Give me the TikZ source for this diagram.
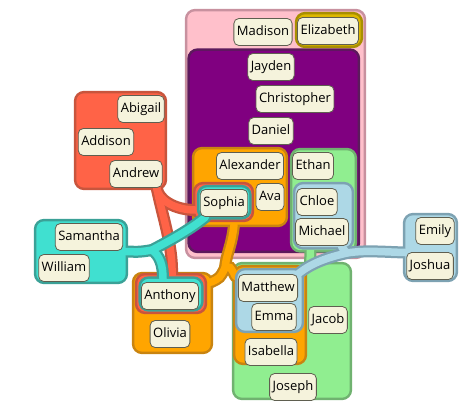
\documentclass[tikz,border=0pt]{standalone}
\usepackage{fontspec}
\setmainfont{Open Sans}
\usepackage{tikz}
\usetikzlibrary{calc,fit}

\definecolor{pinkfl}{HTML}{FFC0CB}   \definecolor{pinkln}{HTML}{C8919F}
\definecolor{purpfl}{HTML}{800080}   \definecolor{purpln}{HTML}{5C1A5C}
\definecolor{tomfl}{HTML}{FF6347}    \definecolor{tomln}{HTML}{C8553D}
\definecolor{turqfl}{HTML}{40E0D0}   \definecolor{turqln}{HTML}{3BA197}
\definecolor{orngfl}{HTML}{FFA500}   \definecolor{orngln}{HTML}{C98410}
\definecolor{grnfl}{HTML}{90EE90}    \definecolor{grnln}{HTML}{70B270}
\definecolor{bluefl}{HTML}{ADD8E6}   \definecolor{blueln}{HTML}{7DA2B2}
\definecolor{goldfl}{HTML}{DDB800}   \definecolor{goldln}{HTML}{A88F00}
\definecolor{itemfl}{HTML}{F5F3DC}   \definecolor{itemln}{HTML}{5F5F50}

\begin{document}
\begin{tikzpicture}[x=1pt,y=-1pt,
   item/.style={draw=itemln,fill=itemfl,line width=0.8pt,rounded corners=5pt,
     inner xsep=3pt,inner ysep=0pt,minimum height=27pt,text height=10pt,text depth=3pt,
     font=\fontsize{13pt}{15pt}\selectfont},
   area/.style={inner sep=0pt,draw=none},
   setout/.style={draw=#1ln,fill=#1ln,line width=5pt,rounded corners=8pt},
   setin/.style={fill=#1fl,rounded corners=8pt},
   tailout/.style={draw=#1ln,line width=12pt,line cap=round},
   tailin/.style={draw=#1fl,line width=7.5pt,line cap=round}]
  \useasboundingbox (0,0) rectangle (462,402);

  % set areas
  \node[area,fit={(187.5,11.5) (363.5,256.5)}] (pinkbox) {};
  \node[area,fit={(190,51) (357.5,250.5)}]     (purplebox) {};
  \node[area,fit={(76.5,93.5) (164.5,187.5)}]  (redbox) {};
  \node[area,fit={(36.5,221.5) (125.5,281.5)}] (tealbox) {};
  \node[area,fit={(194.5,149.5) (285.5,224.5)}] (orangeA) {};
  \node[area,fit={(134.5,274.5) (210.5,351.5)}] (orangeB) {};
  \node[area,fit={(235.5,267.5) (304.5,362.5)}] (orangeC) {};
  \node[area,fit={(292.5,150.5) (354.5,250)}]   (greenA) {};
  \node[area,fit={(234.5,264.5) (349.5,397.5)}] (greenB) {};
  \node[area,fit={(295.5,184.5) (351.5,247)}]   (blueA) {};
  \node[area,fit={(237.5,270.5) (301.5,330.5)}] (blueB) {};
  \node[area,fit={(405.5,215.5) (455.5,279.5)}] (blueC) {};
  \node[area,fit={(195.5,184.5) (251.5,219.5)}] (sophiaR) {};
  \node[area,fit={(199.5,187.5) (249,217)}]     (sophiaT) {};
  \node[area,fit={(137.5,275.5) (204.5,311.5)}] (anthonyR) {};
  \node[area,fit={(141,279) (201,309)}]         (anthonyT) {};
  \node[area,fit={(297.5,14.5) (360.5,45.5)}]   (elizG) {};

  \coordinate (tealfork) at (152,250);
  \coordinate (orngfork) at (225,268);
  \coordinate (bluefork) at (347,253);

  % pink and purple
  \foreach \p in {out,in} {
    \path[set\p=pink] (pinkbox.north west) rectangle (pinkbox.south east);
  }
  \foreach \p in {out,in} {
    \path[set\p=purp] (purplebox.north west) rectangle (purplebox.south east);
  }
  % green
  \foreach \p in {out,in} {
    \path[set\p=grn] (greenA.north west) rectangle (greenA.south east)
      (greenB.north west) rectangle (greenB.south east);
    \draw[tail\p=grn] ($(greenA.south)+(-13,0)$) -- ($(greenB.north)+(18,0)$);
  }
  % orange
  \foreach \p in {out,in} {
    \path[set\p=orng] (orangeA.north west) rectangle (orangeA.south east)
      (orangeB.north west) rectangle (orangeB.south east)
      (orangeC.north west) rectangle (orangeC.south east);
    \draw[tail\p=orng] ($(orangeA.south)+(-6,0)$) .. controls (232,245) and (226,255) .. (orngfork)
      .. controls (220,278) .. ($(orangeB.north east)+(0,8)$);
    \draw[tail\p=orng] (orngfork) .. controls (230,266) .. ($(orangeC.north west)+(0,9)$);
  }
  % light blue
  \foreach \p in {out,in} {
    \path[set\p=blue] (blueA.north west) rectangle (blueA.south east)
      (blueB.north west) rectangle (blueB.south east)
      (blueC.north west) rectangle (blueC.south east);
    \draw[tail\p=blue] ($(blueC.west)+(0,5)$) .. controls (385,252) and (365,250) .. (bluefork)
      .. controls (325,258) and (310,264) .. ($(blueB.north east)+(-4,4)$);
    \draw[tail\p=blue] (bluefork) -- ($(blueA.south east)+(-10,0)$);
  }
  % tomato
  \foreach \p in {out,in} {
    \path[set\p=tom] (redbox.north west) rectangle (redbox.south east)
      (sophiaR.north west) rectangle (sophiaR.south east)
      (anthonyR.north west) rectangle (anthonyR.south east);
    \draw[tail\p=tom] ($(redbox.south east)+(-8,0)$) .. controls (158,200) and (175,210) .. ($(sophiaR.west)+(0,8)$);
    \draw[tail\p=tom] ($(redbox.south east)+(-8,0)$) .. controls (162,215) and (173,245) .. ($(anthonyR.north)+(1,0)$);
  }
  % turquoise
  \foreach \p in {out,in} {
    \path[set\p=turq] (tealbox.north west) rectangle (tealbox.south east)
      (sophiaT.north west) rectangle (sophiaT.south east)
      (anthonyT.north west) rectangle (anthonyT.south east);
    \draw[tail\p=turq] (tealbox.east) .. controls (140,252) .. (tealfork)
      .. controls (175,238) and (192,228) .. ($(sophiaT.south west)+(6,0)$);
    \draw[tail\p=turq] (tealfork) .. controls (160,256) and (163,265) .. ($(anthonyT.north)+(-8,0)$);
  }
  % gold
  \foreach \p in {out,in} {
    \path[set\p=gold] (elizG.north west) rectangle (elizG.south east);
  }

  % names
  \node[item] (madison)     at (263,32)  {Madison};
  \node[item] (elizabeth)   at (328,31)  {Elizabeth};
  \node[item] (jayden)      at (271,67)  {Jayden};
  \node[item] (christopher) at (295,99)  {Christopher};
  \node[item] (daniel)      at (271,131) {Daniel};
  \node[item] (abigail)     at (141,109) {Abigail};
  \node[item] (addison)     at (106,142) {Addison};
  \node[item] (andrew)      at (136,174) {Andrew};
  \node[item] (alexander)   at (250,166) {Alexander};
  \node[item] (ava)         at (270,197) {Ava};
  \node[item] (sophia)      at (224,203) {Sophia};
  \node[item] (ethan)       at (313,166) {Ethan};
  \node[item] (chloe)       at (317,202) {Chloe};
  \node[item] (michael)     at (322,232) {Michael};
  \node[item] (samantha)    at (89,237)  {Samantha};
  \node[item] (william)     at (64,268)  {William};
  \node[item] (anthony)     at (170,296) {Anthony};
  \node[item] (olivia)      at (170,334) {Olivia};
  \node[item] (matthew)     at (268,288) {Matthew};
  \node[item] (emma)        at (274,317) {Emma};
  \node[item] (isabella)    at (271,352) {Isabella};
  \node[item] (jacob)       at (328,320) {Jacob};
  \node[item] (joseph)      at (293,387) {Joseph};
  \node[item] (emily)       at (435,231) {Emily};
  \node[item] (joshua)      at (430,266) {Joshua};
\end{tikzpicture}
\end{document}
